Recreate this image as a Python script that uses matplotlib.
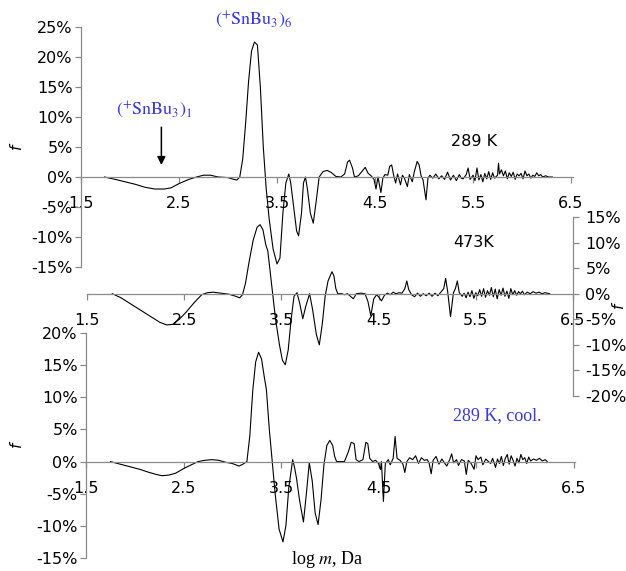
#!/usr/bin/env python3

'''
Three stacked difference spectra f vs log m, overlapping panels
'''

import matplotlib as mpl
mpl.use('Agg')
import matplotlib.pyplot as plt
from matplotlib.ticker import FuncFormatter

plt.rcParams['mathtext.fontset'] = 'stix'

W, H = 626, 571

# 289 K (top panel), f in %
x_289 = [1.74, 1.85, 1.95, 2.05, 2.15, 2.25, 2.35, 2.42, 2.50, 2.60, 2.68, 2.75, 2.82, 2.90,
         3.00, 3.06, 3.09, 3.12, 3.15, 3.18, 3.21, 3.24, 3.27, 3.30, 3.33, 3.36, 3.39, 3.42,
         3.46, 3.50, 3.53, 3.56, 3.59, 3.62, 3.64, 3.67, 3.70, 3.72, 3.75, 3.77, 3.79, 3.81,
         3.84, 3.87, 3.90, 3.93, 3.97, 4.01, 4.05, 4.10, 4.15, 4.19, 4.22, 4.24, 4.27, 4.29,
         4.33, 4.37, 4.40, 4.43, 4.46, 4.49, 4.51, 4.53, 4.56, 4.58, 4.60, 4.63, 4.65, 4.67,
         4.69, 4.71, 4.73, 4.76, 4.78, 4.80, 4.83, 4.85, 4.88, 4.90, 4.93, 4.95, 4.97, 4.99,
         5.02, 5.04, 5.06, 5.09, 5.12, 5.15, 5.18, 5.21, 5.24, 5.27, 5.30, 5.33, 5.36, 5.38,
         5.40, 5.43, 5.45, 5.47, 5.50, 5.52, 5.54, 5.56, 5.58, 5.60, 5.62, 5.64, 5.66, 5.68,
         5.70, 5.72, 5.75, 5.76, 5.77, 5.79, 5.81, 5.83, 5.85, 5.87, 5.89, 5.91, 5.93, 5.95,
         5.97, 5.99, 6.01, 6.03, 6.05, 6.07, 6.09, 6.11, 6.13, 6.15, 6.17, 6.19, 6.21, 6.24,
         6.27, 6.31]
f_289 = [0.0, -0.4, -0.8, -1.2, -1.7, -2.0, -2.0, -1.8, -1.1, -0.4, 0.0, 0.3, 0.3, 0.0,
         -0.1, -0.4, -0.5, 0.0, 3.0, 9.0, 16.0, 21.0, 22.5, 22.0, 15.0, 5.0, -2.0, -7.0,
         -12.0, -14.5, -13.5, -6.0, -1.0, 0.5, -1.0, -5.0, -9.0, -9.8, -6.0, -1.0, 0.0, -2.0,
         -6.0, -7.7, -4.0, 0.0, 0.9, 1.1, 0.8, 0.1, 0.0, 0.5, 2.5, 2.8, 1.5, 0.0,
         0.2, 1.0, 1.6, 0.6, 0.2, -0.4, -2.0, 0.0, -2.6, -0.2, 0.4, 0.3, 1.8, 2.0,
         0.3, -1.0, 0.5, -1.3, 0.3, -0.2, -1.6, 0.4, -0.8, 0.8, 2.6, 2.0, 0.2, -0.5,
         -3.8, -0.2, 0.3, -0.2, 0.5, -0.3, 0.2, -0.4, 0.8, -0.5, 0.3, -0.6, 0.4, -0.2,
         -0.3, 0.4, 1.5, -0.4, 0.3, -0.6, 1.5, -0.5, 0.4, -0.8, 0.6, -0.3, 0.9, -0.4,
         0.7, -0.2, 0.3, 2.3, 0.5, 1.2, 0.2, 1.0, -0.3, 0.7, 0.1, 0.8, -0.4, 0.5,
         0.2, 0.6, -0.3, 1.0, 0.2, 0.5, -0.2, 0.3, 0.1, 0.7, 0.2, 0.4, 0.0, 0.2,
         0.0, 0.0]

# 473 K (middle panel)
x_473 = [1.76, 1.85, 1.95, 2.05, 2.15, 2.25, 2.32, 2.38, 2.45, 2.52, 2.60, 2.68, 2.74, 2.80,
         2.88, 2.96, 3.03, 3.07, 3.10, 3.13, 3.17, 3.21, 3.25, 3.28, 3.31, 3.34, 3.36, 3.38,
         3.41, 3.44, 3.48, 3.51, 3.54, 3.57, 3.60, 3.63, 3.66, 3.69, 3.72, 3.75, 3.79, 3.82,
         3.86, 3.89, 3.92, 3.95, 3.98, 4.02, 4.04, 4.06, 4.08, 4.12, 4.15, 4.18, 4.21, 4.24,
         4.27, 4.32, 4.36, 4.39, 4.42, 4.45, 4.48, 4.50, 4.53, 4.56, 4.59, 4.62, 4.65, 4.68,
         4.71, 4.74, 4.77, 4.79, 4.81, 4.84, 4.87, 4.90, 4.93, 4.96, 4.99, 5.02, 5.05, 5.08,
         5.11, 5.14, 5.17, 5.19, 5.21, 5.24, 5.27, 5.29, 5.31, 5.33, 5.36, 5.38, 5.40, 5.42,
         5.44, 5.46, 5.48, 5.50, 5.52, 5.54, 5.56, 5.58, 5.60, 5.62, 5.64, 5.66, 5.68, 5.70,
         5.72, 5.74, 5.76, 5.78, 5.80, 5.82, 5.84, 5.86, 5.88, 5.90, 5.92, 5.94, 5.96, 5.98,
         6.00, 6.03, 6.06, 6.09, 6.12, 6.15, 6.18, 6.21, 6.26]
f_473 = [0.0, -0.8, -2.0, -3.2, -4.4, -5.6, -6.1, -6.0, -5.0, -3.6, -1.8, -0.2, 0.2, 0.3,
         0.1, -0.1, -0.5, -0.8, -0.2, 2.0, 6.5, 10.5, 13.0, 13.5, 12.5, 9.5, 8.4, 5.0,
         0.0, -5.0, -10.0, -13.0, -13.9, -11.0, -5.0, -0.5, 0.2, -2.0, -4.9, -2.5, 0.0, -3.0,
         -8.0, -10.0, -6.0, -0.5, 2.5, 4.3, 3.5, 1.0, 0.0, 0.0, -0.2, 0.0, -0.5, -1.0,
         0.0, 0.1, 0.0, -1.5, -4.3, -1.0, -0.2, -0.6, -1.4, -0.3, 0.1, -0.2, 0.3, 0.0,
         0.2, 0.1, 1.0, 2.5, 0.8, -0.2, -0.6, 0.1, -0.5, 0.0, -0.4, 0.1, -0.5, 0.1,
         -0.4, 0.3, 1.0, 3.0, 0.5, -4.5, 0.2, 1.0, 2.5, 0.2, -0.5, 0.1, -0.8, 0.3,
         -0.6, 0.6, -0.9, 0.2, -0.4, 0.8, -0.5, 1.0, -0.7, 0.6, -0.3, 1.2, -0.6, 0.9,
         -1.0, 0.8, -0.3, 1.1, -0.5, 0.5, -0.9, 1.0, -0.2, 0.6, -0.3, 0.4, 0.0, 0.5,
         -0.2, 0.3, 0.0, 0.4, 0.1, 0.3, 0.0, 0.2, 0.0]

# 289 K after cooling (bottom panel)
x_cool = [1.75, 1.85, 1.95, 2.05, 2.15, 2.22, 2.28, 2.35, 2.42, 2.50, 2.58, 2.65, 2.72, 2.79,
          2.86, 2.93, 3.00, 3.07, 3.11, 3.15, 3.18, 3.21, 3.24, 3.27, 3.30, 3.33, 3.35, 3.38,
          3.41, 3.44, 3.48, 3.52, 3.55, 3.58, 3.62, 3.64, 3.66, 3.69, 3.73, 3.76, 3.79, 3.82,
          3.85, 3.88, 3.91, 3.94, 3.97, 4.00, 4.03, 4.05, 4.07, 4.11, 4.15, 4.19, 4.22, 4.25,
          4.27, 4.30, 4.34, 4.37, 4.39, 4.41, 4.44, 4.47, 4.50, 4.52, 4.53, 4.55, 4.57, 4.60,
          4.62, 4.65, 4.67, 4.69, 4.72, 4.75, 4.77, 4.79, 4.82, 4.85, 4.88, 4.91, 4.94, 4.97,
          5.00, 5.02, 5.04, 5.06, 5.09, 5.12, 5.15, 5.18, 5.20, 5.23, 5.25, 5.27, 5.30, 5.32,
          5.35, 5.38, 5.40, 5.42, 5.45, 5.48, 5.50, 5.52, 5.55, 5.57, 5.60, 5.62, 5.65, 5.67,
          5.70, 5.72, 5.74, 5.76, 5.78, 5.80, 5.82, 5.84, 5.86, 5.88, 5.90, 5.92, 5.94, 5.96,
          5.98, 6.00, 6.02, 6.04, 6.06, 6.09, 6.12, 6.15, 6.18, 6.21, 6.23]
f_cool = [0.0, -0.4, -0.8, -1.2, -1.7, -2.0, -2.2, -2.1, -1.8, -1.1, -0.5, 0.0, 0.2, 0.3,
          0.2, -0.1, -0.3, -0.7, -0.4, 0.0, 4.0, 11.0, 15.5, 17.0, 16.0, 13.0, 11.2, 5.0,
          0.0, -5.0, -10.5, -12.5, -10.0, -4.0, 0.3, -1.0, -2.7, -6.0, -9.4, -5.0, -0.2, -3.0,
          -8.0, -9.8, -6.0, -0.5, 2.5, 3.3, 2.5, 0.8, 0.0, 0.0, 0.0, 1.5, 3.0, 2.8,
          0.3, 0.0, 0.3, 3.0, 2.8, 0.5, 0.0, 0.2, -0.3, -1.25, 0.0, -6.2, -0.3, 0.3,
          -0.5, 0.5, 3.9, 0.5, 0.2, -0.4, -1.7, 0.0, 0.6, 0.3, 0.9, -0.3, 0.6, 0.2,
          0.3, -0.3, -1.9, 0.2, 0.8, -0.4, 0.4, -0.3, -0.7, 0.3, 1.2, -0.2, 0.3, -0.6,
          0.3, 0.1, -2.0, 0.2, -0.3, -1.2, 0.9, 0.3, 0.7, -0.5, 0.4, 0.1, -0.3, 0.5,
          -0.9, 0.4, -0.3, 0.8, -0.6, 0.5, 1.1, -0.4, 0.9, 0.2, -0.7, 0.5, -0.2, 1.1,
          0.3, 0.6, -0.3, 0.7, 0.1, 0.4, 0.2, 0.5, 0.1, 0.3, 0.0]

x_ticks = [1.5, 2.5, 3.5, 4.5, 5.5, 6.5]

BLUE = '#3a3ad8'
GRAY = '#8a8a8a'
SANS = 'DejaVu Sans'
SERIF = 'Liberation Serif'


def rect(left, top, right, bottom):
    # pixel box -> figure fraction
    return [left / W, 1 - bottom / H, (right - left) / W, (bottom - top) / H]


def fpos(x, y):
    return x / W, 1 - y / H


def style(ax, xlim, ylim, yticks, side):
    ax.set_facecolor('none')
    ax.set_xlim(*xlim)
    ax.set_ylim(*ylim)
    for s in ['top', 'bottom', 'left', 'right']:
        ax.spines[s].set_visible(False)
    ax.spines['bottom'].set_visible(True)
    ax.spines['bottom'].set_position(('data', 0))
    ax.spines[side].set_visible(True)
    for s in ['bottom', side]:
        ax.spines[s].set_color(GRAY)
        ax.spines[s].set_linewidth(0.9)
    ax.set_xticks(x_ticks)
    ax.set_xticklabels([f'{t:.1f}' for t in x_ticks])
    ax.set_yticks(yticks)
    ax.yaxis.set_major_formatter(FuncFormatter(lambda v, _: f'{v:.0f}%'))
    if side == 'right':
        ax.yaxis.tick_right()
    ax.tick_params(axis='x', direction='out', length=4, width=0.9, color=GRAY,
                   pad=10, labelsize=11.5)
    ax.tick_params(axis='y', direction='out', length=4, width=0.9, color=GRAY,
                   pad=2 if side == 'left' else 5, labelsize=11.5)
    for lab in ax.get_xticklabels() + ax.get_yticklabels():
        lab.set_family(SANS)


fig = plt.figure(figsize=(W / 100, H / 100), dpi=100)
fig.patch.set_facecolor('white')

ax_mid = fig.add_axes(rect(87, 217, 573, 396))
style(ax_mid, (1.5, 6.5), (-20, 15), range(-20, 16, 5), 'right')
ax_mid.plot(x_473, f_473, color='black', lw=0.8)

ax_bot = fig.add_axes(rect(86, 333, 575, 558))
style(ax_bot, (1.5, 6.515), (-15, 20), range(-15, 21, 5), 'left')
ax_bot.plot(x_cool, f_cool, color='black', lw=0.8)

ax_top = fig.add_axes(rect(81, 27, 573, 267))
style(ax_top, (1.5, 6.52), (-15, 25), range(-15, 26, 5), 'left')
ax_top.plot(x_289, f_289, color='black', lw=0.8)

# arrow towards the monomer region
ax_top.annotate('', xy=(2.32, 2.0), xytext=(2.32, 8.3),
                arrowprops=dict(arrowstyle='-|>', color='black', lw=1.1,
                                mutation_scale=12, shrinkA=0, shrinkB=0))

fig.text(*fpos(254, 20), r'$(^{+}\mathrm{SnBu}_{3})_{6}$', color=BLUE,
         fontsize=13, ha='center', va='center')
fig.text(*fpos(154, 110), r'$(^{+}\mathrm{SnBu}_{3})_{1}$', color=BLUE,
         fontsize=13, ha='center', va='center')
fig.text(*fpos(474, 142), '289 K', family=SANS, fontsize=11.5, ha='center', va='center')
fig.text(*fpos(474, 243), '473K', family=SANS, fontsize=11.5, ha='center', va='center')
fig.text(*fpos(497, 416), '289 K, cool.', family=SERIF, color=BLUE, fontsize=13,
         ha='center', va='center')
fig.text(*fpos(327, 560), r'log $m$, Da', family=SERIF, fontsize=13,
         ha='center', va='center')

for (fx, fy) in [(16, 146), (16, 444), (618, 305)]:
    fig.text(*fpos(fx, fy), 'f', family=SANS, style='italic', fontsize=11,
             rotation=90, ha='center', va='center')

fig.savefig('out.png', dpi=100)
